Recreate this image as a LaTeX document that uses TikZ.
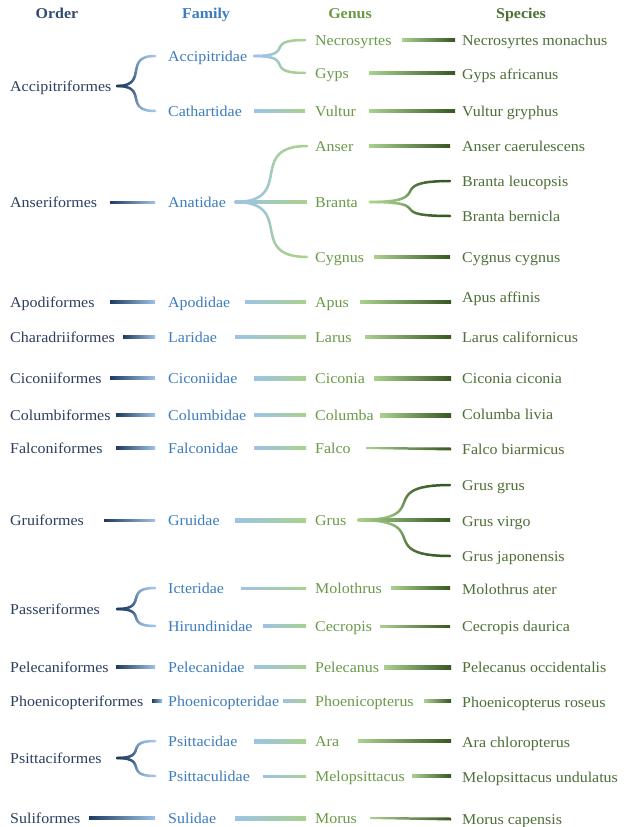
\documentclass[tikz,border=0pt]{standalone}
\usepackage{fontspec}
\setmainfont{Liberation Serif}[FakeStretch=1.065]
\usetikzlibrary{calc}
\definecolor{ordc}{HTML}{2C3F60}
\definecolor{famc}{HTML}{3D7CBD}
\definecolor{genc}{HTML}{6A9A48}
\definecolor{spec}{HTML}{4E6F37}
\definecolor{ordh}{HTML}{2E4B70}
\definecolor{famh}{HTML}{3D7BC0}
\definecolor{genh}{HTML}{6A9A45}
\definecolor{speh}{HTML}{4C7032}
\definecolor{navyl}{HTML}{1F3B63}
\definecolor{bluel}{HTML}{9DC3E6}
\definecolor{greenl}{HTML}{A9D18E}
\definecolor{darkl}{HTML}{385723}
% straight gradient connector: x1, x2, node1, node2, w1, w2, colA, colB
\newcommand\gl[8]{%
  \shade[left color=#7,right color=#8]
    ($(#1,0 |- #3)+(0,#5/2)$) -- ($(#2,0 |- #4)+(0,#6/2)$) --
    ($(#2,0 |- #4)-(0,#6/2)$) -- ($(#1,0 |- #3)-(0,#5/2)$) -- cycle;}
% curved gradient connector: start, end, colA, colB, width
\newcommand\gcurve[5]{%
  \coordinate (gA) at #1;
  \coordinate (gB) at #2;
  \coordinate (gC) at ($(gA)!0.85!(gA -| gB)$);
  \coordinate (gD) at ($(gB)!0.85!(gB -| gA)$);
  \foreach \i [evaluate=\i as \gt using \i/24] in {0,...,24}{%
    \path (gA) .. controls (gC) and (gD) .. (gB) coordinate[pos=\gt] (gp\i);}
  \foreach \i [evaluate=\i as \gj using int(\i+1), evaluate=\i as \gm using int(100-\i*100/23)] in {0,...,23}{%
    \draw[line width=#5pt, line cap=round, #3!\gm!#4] (gp\i) -- (gp\gj);}
}
\begin{document}
\begin{tikzpicture}[x=1pt,y=-1pt,
  txt/.style={anchor=west, inner sep=0pt, text height=11pt, text depth=0pt, font=\fontsize{15}{17}\selectfont},
  hdr/.style={anchor=center, inner sep=0pt, text height=11pt, text depth=0pt, font=\fontsize{15}{17}\selectfont\bfseries},
  ord/.style={txt, text=ordc},
  fam/.style={txt, text=famc},
  gen/.style={txt, text=genc},
  spc/.style={txt, text=spec}]
\useasboundingbox[fill=white] (0,0) rectangle (628,827);
% headers
\node[hdr, text=ordh] (h1) at (57,13) {Order};
\node[hdr, text=famh] (h2) at (206,13) {Family};
\node[hdr, text=genh] (h3) at (350,13) {Genus};
\node[hdr, text=speh] (h4) at (521,13) {Species};
% orders
\node[ord] (oacc) at (10,86) {Accipitriformes};
\node[ord] (oans) at (10,202) {Anseriformes};
\node[ord] (oapo) at (10,302) {Apodiformes};
\node[ord] (ocha) at (10,337) {Charadriiformes};
\node[ord] (ocic) at (10,378) {Ciconiiformes};
\node[ord] (ocol) at (10,415) {Columbiformes};
\node[ord] (ofal) at (10,448) {Falconiformes};
\node[ord] (ogru) at (10,520) {Gruiformes};
\node[ord] (opas) at (10,609) {Passeriformes};
\node[ord] (opel) at (10,667) {Pelecaniformes};
\node[ord] (opho) at (10,701) {Phoenicopteriformes};
\node[ord] (opsi) at (10,758) {Psittaciformes};
\node[ord] (osul) at (10,818) {Suliformes};
% families
\node[fam] (facc) at (168,56) {Accipitridae};
\node[fam] (fcat) at (168,111) {Cathartidae};
\node[fam] (fana) at (168,202) {Anatidae};
\node[fam] (fapo) at (168,302) {Apodidae};
\node[fam] (flar) at (168,337) {Laridae};
\node[fam] (fcic) at (168,378) {Ciconiidae};
\node[fam] (fcol) at (168,415) {Columbidae};
\node[fam] (ffal) at (168,448) {Falconidae};
\node[fam] (fgru) at (168,520) {Gruidae};
\node[fam] (fict) at (168,588) {Icteridae};
\node[fam] (fhir) at (168,626) {Hirundinidae};
\node[fam] (fpel) at (168,667) {Pelecanidae};
\node[fam] (fpho) at (168,701) {Phoenicopteridae};
\node[fam] (fpsa) at (168,741) {Psittacidae};
\node[fam] (fpsu) at (168,776) {Psittaculidae};
\node[fam] (fsul) at (168,818) {Sulidae};
% genera
\node[gen] (gnec) at (315,40) {Necrosyrtes};
\node[gen] (ggyp) at (315,73) {Gyps};
\node[gen] (gvul) at (315,111) {Vultur};
\node[gen] (gans) at (315,146) {Anser};
\node[gen] (gbra) at (315,202) {Branta};
\node[gen] (gcyg) at (315,257) {Cygnus};
\node[gen] (gapu) at (315,302) {Apus};
\node[gen] (glar) at (315,337) {Larus};
\node[gen] (gcic) at (315,378) {Ciconia};
\node[gen] (gcol) at (315,415) {Columba};
\node[gen] (gfal) at (315,448) {Falco};
\node[gen] (ggru) at (315,520) {Grus};
\node[gen] (gmol) at (315,588) {Molothrus};
\node[gen] (gcec) at (315,626) {Cecropis};
\node[gen] (gpel) at (315,667) {Pelecanus};
\node[gen] (gpho) at (315,701) {Phoenicopterus};
\node[gen] (gara) at (315,741) {Ara};
\node[gen] (gmel) at (315,776) {Melopsittacus};
\node[gen] (gmor) at (315,818) {Morus};
% species
\node[spc] (s1) at (462,40) {Necrosyrtes monachus};
\node[spc] (s2) at (462,74) {Gyps africanus};
\node[spc] (s3) at (462,111) {Vultur gryphus};
\node[spc] (s4) at (462,146) {Anser caerulescens};
\node[spc] (s5) at (462,181) {Branta leucopsis};
\node[spc] (s6) at (462,216) {Branta bernicla};
\node[spc] (s7) at (462,257) {Cygnus cygnus};
\node[spc] (s8) at (462,297) {Apus affinis};
\node[spc] (s9) at (462,337) {Larus californicus};
\node[spc] (s10) at (462,378) {Ciconia ciconia};
\node[spc] (s11) at (462,414) {Columba livia};
\node[spc] (s12) at (462,449) {Falco biarmicus};
\node[spc] (s13) at (462,485) {Grus grus};
\node[spc] (s14) at (462,521) {Grus virgo};
\node[spc] (s15) at (462,556) {Grus japonensis};
\node[spc] (s16) at (462,589) {Molothrus ater};
\node[spc] (s17) at (462,626) {Cecropis daurica};
\node[spc] (s18) at (462,667) {Pelecanus occidentalis};
\node[spc] (s19) at (462,702) {Phoenicopterus roseus};
\node[spc] (s20) at (462,742) {Ara chloropterus};
\node[spc] (s21) at (462,777) {Melopsittacus undulatus};
\node[spc] (s22) at (462,819) {Morus capensis};
% ---- order -> family
\gcurve{(117,0 |- oacc)}{(155,0 |- facc)}{navyl}{bluel}{2.5}
\gcurve{(117,0 |- oacc)}{(155,0 |- fcat)}{navyl}{bluel}{2.5}
\gl{110}{155}{oans}{fana}{2}{2}{navyl}{bluel}
\gl{110}{155}{oapo}{fapo}{2.5}{2.5}{navyl}{bluel}
\gl{123}{155}{ocha}{flar}{2.5}{2.5}{navyl}{bluel}
\gl{110}{155}{ocic}{fcic}{3}{3}{navyl}{bluel}
\gl{116}{155}{ocol}{fcol}{3}{3}{navyl}{bluel}
\gl{116}{155}{ofal}{ffal}{2.5}{2.5}{navyl}{bluel}
\gl{104}{155}{ogru}{fgru}{2}{2}{navyl}{bluel}
\gcurve{(117,0 |- opas)}{(155,0 |- fict)}{navyl}{bluel}{2.5}
\gcurve{(117,0 |- opas)}{(155,0 |- fhir)}{navyl}{bluel}{2.5}
\gl{116}{155}{opel}{fpel}{2.5}{2.5}{navyl}{bluel}
\gl{152}{162}{opho}{fpho}{2.5}{2.5}{navyl}{bluel}
\gcurve{(117,0 |- opsi)}{(155,0 |- fpsa)}{navyl}{bluel}{2.5}
\gcurve{(117,0 |- opsi)}{(155,0 |- fpsu)}{navyl}{bluel}{2.5}
\gl{89}{155}{osul}{fsul}{3.5}{3.5}{navyl}{bluel}
% ---- family -> genus
\gcurve{(254,0 |- facc)}{(305,0 |- gnec)}{bluel}{greenl}{2.5}
\gcurve{(254,0 |- facc)}{(305,0 |- ggyp)}{bluel}{greenl}{2.5}
\gl{254}{305}{fcat}{gvul}{3.5}{3.5}{bluel}{greenl}
\gcurve{(235,0 |- fana)}{(307,0 |- gans)}{bluel}{greenl}{2.5}
\gcurve{(235,0 |- fana)}{(307,0 |- gcyg)}{bluel}{greenl}{2.5}
\gl{235}{307}{fana}{gbra}{2.5}{2.5}{bluel}{greenl}
\gl{245}{306}{fapo}{gapu}{3}{3}{bluel}{greenl}
\gl{235}{306}{flar}{glar}{3}{3}{bluel}{greenl}
\gl{254}{306}{fcic}{gcic}{4}{4}{bluel}{greenl}
\gl{254}{306}{fcol}{gcol}{3.5}{3.5}{bluel}{greenl}
\gl{254}{306}{ffal}{gfal}{3}{3}{bluel}{greenl}
\gl{235}{306}{fgru}{ggru}{4}{4}{bluel}{greenl}
\gl{241}{306}{fict}{gmol}{2}{2}{bluel}{greenl}
\gl{263}{306}{fhir}{gcec}{3}{3}{bluel}{greenl}
\gl{254}{306}{fpel}{gpel}{3}{3}{bluel}{greenl}
\gl{283}{306}{fpho}{gpho}{3}{3}{bluel}{greenl}
\gl{254}{306}{fpsa}{gara}{4}{4}{bluel}{greenl}
\gl{263}{306}{fpsu}{gmel}{2}{2}{bluel}{greenl}
\gl{235}{306}{fsul}{gmor}{4}{4}{bluel}{greenl}
% ---- genus -> species
\gl{402}{455}{gnec}{s1}{3}{3}{greenl}{darkl}
\gl{369}{455}{ggyp}{ggyp}{3}{3}{greenl}{darkl}
\gl{369}{455}{gvul}{s3}{3}{3}{greenl}{darkl}
\gl{369}{450}{gans}{s4}{3}{3}{greenl}{darkl}
\gcurve{(370,0 |- gbra)}{(450,0 |- s5)}{greenl}{darkl}{2.5}
\gcurve{(370,0 |- gbra)}{(450,0 |- s6)}{greenl}{darkl}{2.5}
\gl{374}{450}{gcyg}{s7}{3}{3}{greenl}{darkl}
\gl{360}{451}{gapu}{gapu}{3}{3}{greenl}{darkl}
\gl{365}{451}{glar}{s9}{3}{3}{greenl}{darkl}
\gl{374}{451}{gcic}{s10}{4}{4}{greenl}{darkl}
\gl{380}{451}{gcol}{gcol}{4}{4}{greenl}{darkl}
\gl{366}{451}{gfal}{s12}{2}{3}{greenl}{darkl}
\gcurve{(358,0 |- ggru)}{(450,0 |- s13)}{greenl}{darkl}{2.5}
\gcurve{(358,0 |- ggru)}{(450,0 |- s15)}{greenl}{darkl}{2.5}
\gl{358}{450}{ggru}{ggru}{2.5}{2.5}{greenl}{darkl}
\gl{391}{450}{gmol}{gmol}{3}{3}{greenl}{darkl}
\gl{380}{450}{gcec}{gcec}{2}{2}{greenl}{darkl}
\gl{384}{451}{gpel}{s18}{4}{4}{greenl}{darkl}
\gl{424}{451}{gpho}{gpho}{2.5}{2.5}{greenl}{darkl}
\gl{358}{451}{gara}{gara}{3}{3}{greenl}{darkl}
\gl{412}{451}{gmel}{gmel}{2.5}{2.5}{greenl}{darkl}
\gl{370}{451}{gmor}{s22}{2}{3}{greenl}{darkl}
\end{tikzpicture}
\end{document}
